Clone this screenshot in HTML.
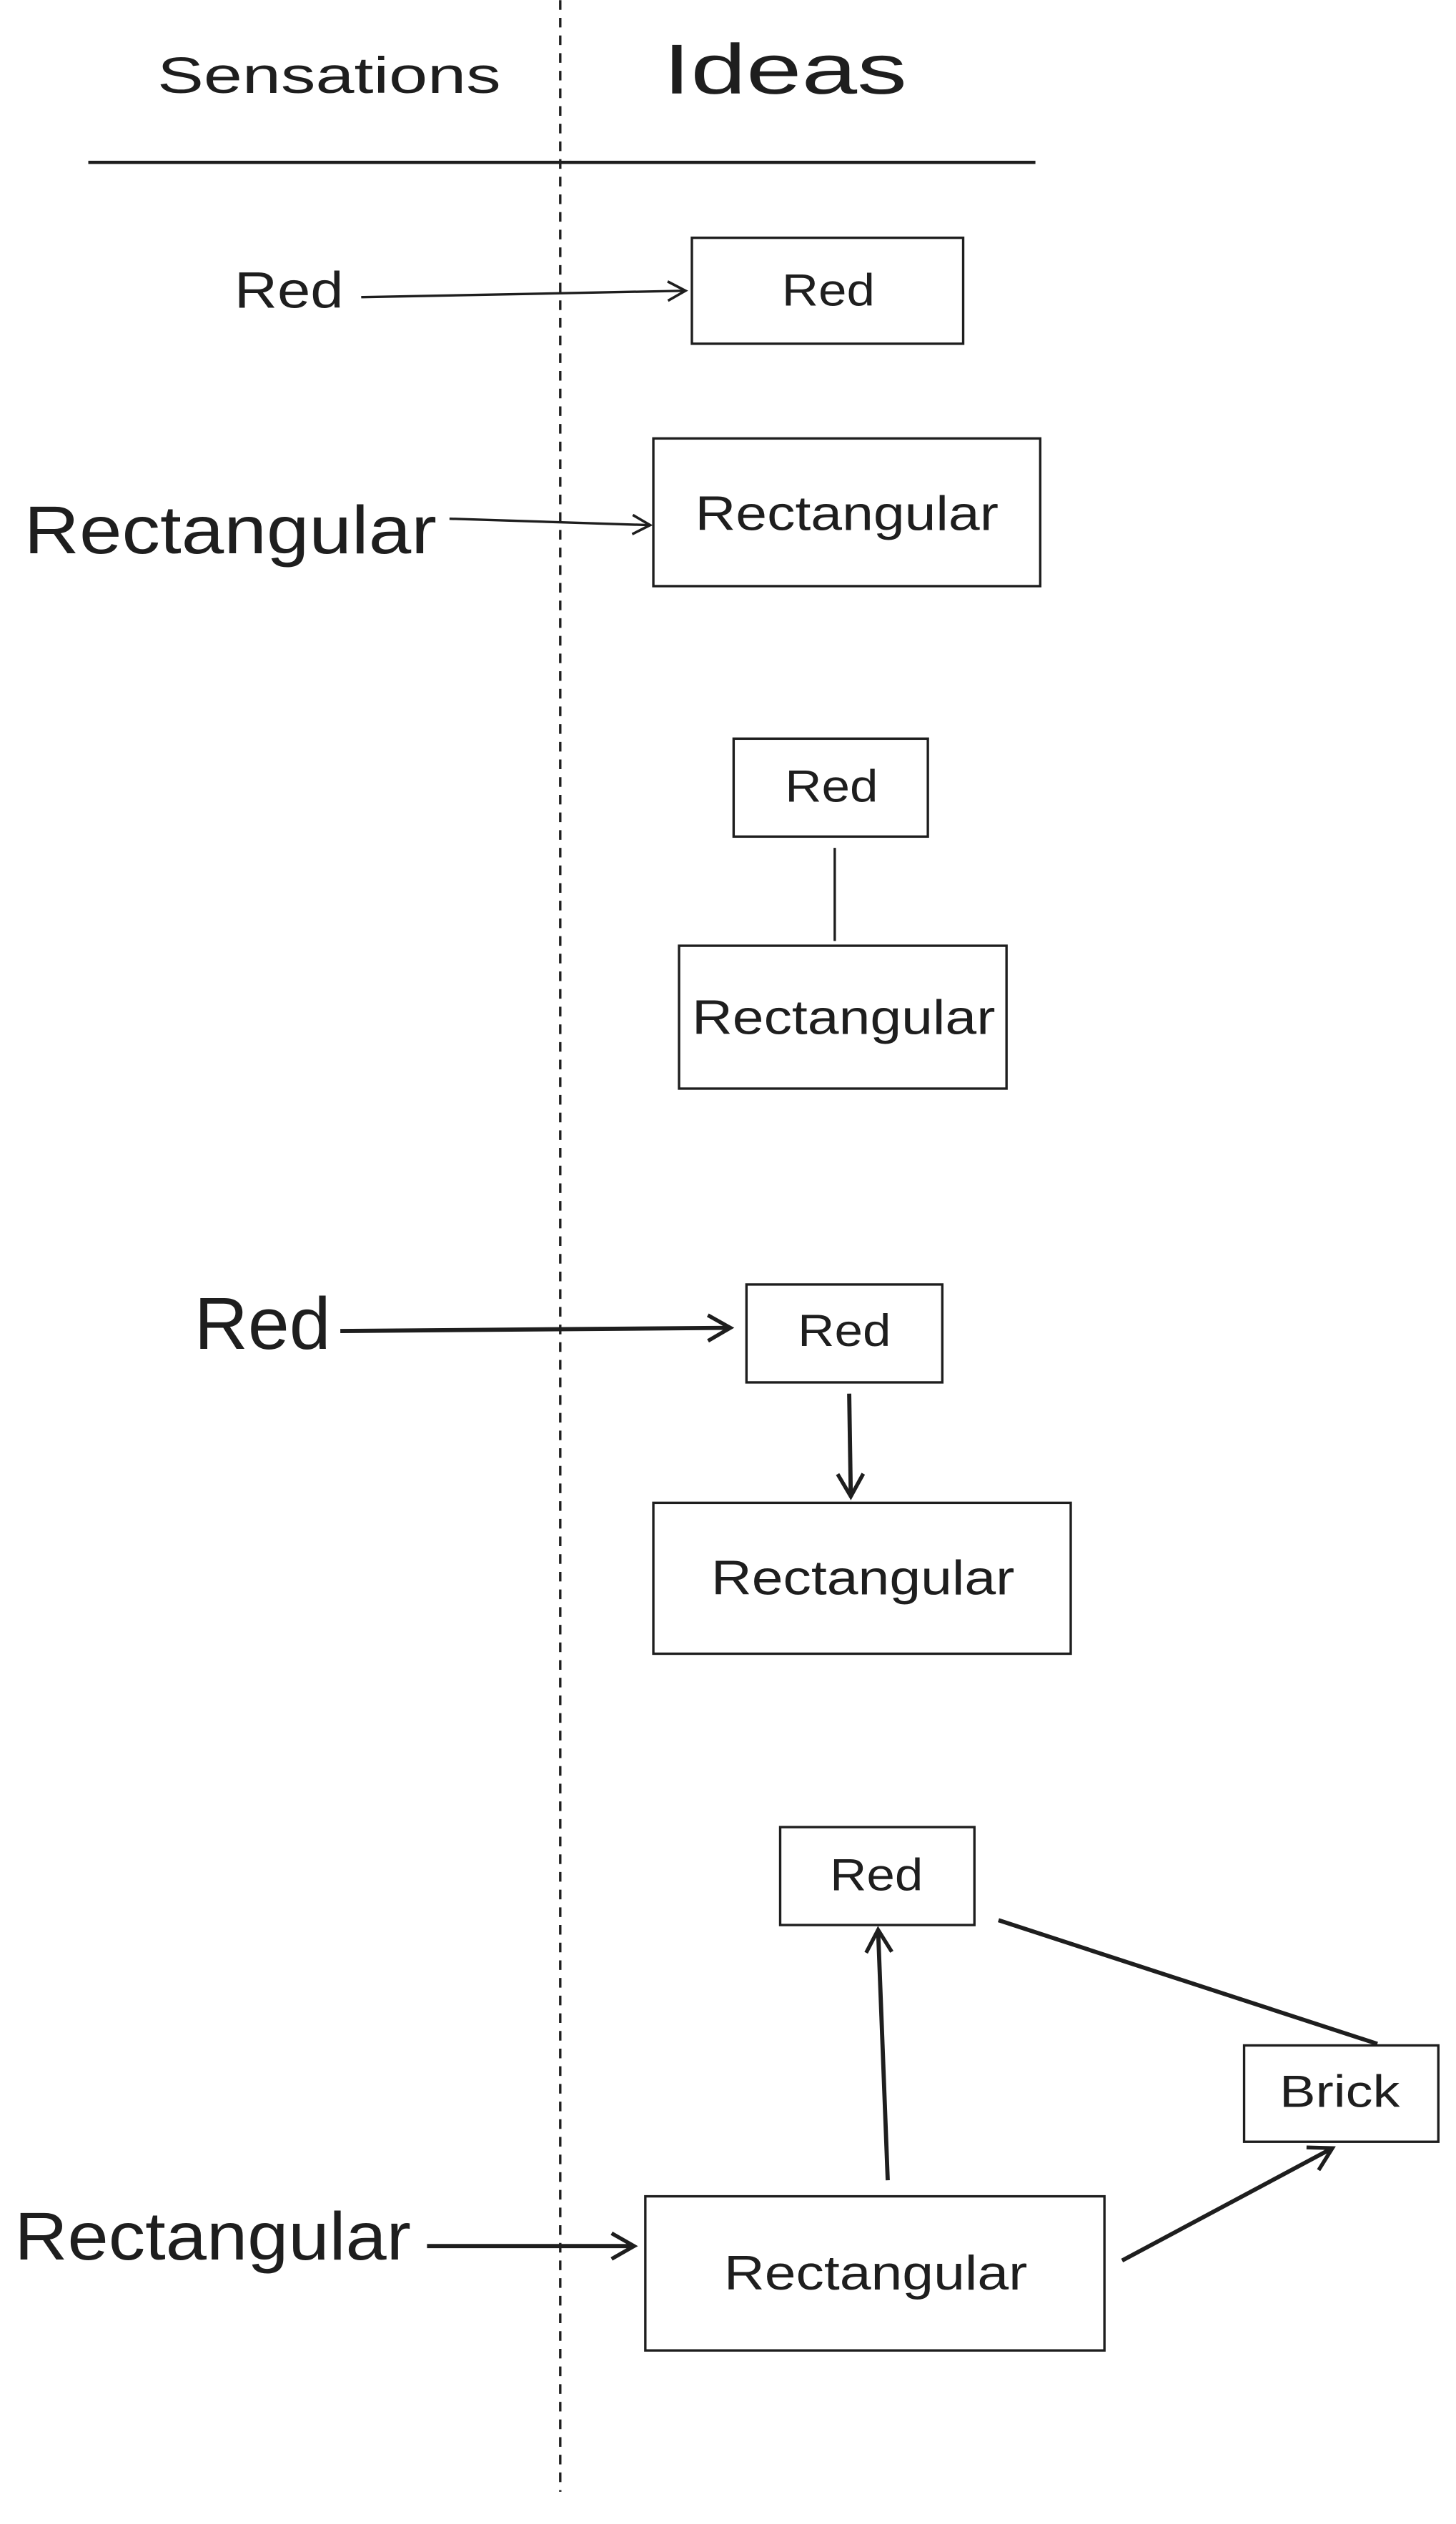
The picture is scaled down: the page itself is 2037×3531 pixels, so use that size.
<!DOCTYPE html>
<html><head><meta charset="utf-8"><style>html,body{margin:0;padding:0;background:#fff}svg{display:block}</style></head>
<body>
<svg width="2037" height="3531" viewBox="0 0 907 1572" xmlns="http://www.w3.org/2000/svg">
<defs>
<marker id="a" markerWidth="14" markerHeight="14" refX="12" refY="7" orient="auto" markerUnits="userSpaceOnUse">
<path d="M1,1 L12,7 L1,13" fill="none" stroke="#1e1e1e" stroke-width="1.6"/>
</marker>
<marker id="b" markerWidth="18" markerHeight="18" refX="15" refY="9" orient="auto" markerUnits="userSpaceOnUse">
<path d="M1,1 L15,9 L1,17" fill="none" stroke="#1e1e1e" stroke-width="2.4"/>
</marker>
</defs>
<g font-family="Liberation Sans, sans-serif" fill="#1e1e1e" dominant-baseline="central" lengthAdjust="spacingAndGlyphs">
<text x="98" y="47" font-size="32" textLength="214" lengthAdjust="spacingAndGlyphs">Sensations</text>
<text x="413" y="43" font-size="44" textLength="152" lengthAdjust="spacingAndGlyphs">Ideas</text>
<text x="146" y="181" font-size="32" textLength="68" lengthAdjust="spacingAndGlyphs">Red</text>
<text x="15" y="330" font-size="42" textLength="257" lengthAdjust="spacingAndGlyphs">Rectangular</text>
<text x="121" y="824" font-size="46" textLength="85" lengthAdjust="spacingAndGlyphs">Red</text>
<text x="9" y="1393" font-size="42" textLength="247" lengthAdjust="spacingAndGlyphs">Rectangular</text>
<text x="487" y="181" font-size="28" textLength="58" lengthAdjust="spacingAndGlyphs">Red</text>
<text x="433" y="320" font-size="30" textLength="189" lengthAdjust="spacingAndGlyphs">Rectangular</text>
<text x="489" y="490" font-size="28" textLength="58" lengthAdjust="spacingAndGlyphs">Red</text>
<text x="431" y="634" font-size="30" textLength="189" lengthAdjust="spacingAndGlyphs">Rectangular</text>
<text x="497" y="829" font-size="28" textLength="58" lengthAdjust="spacingAndGlyphs">Red</text>
<text x="443" y="983" font-size="30" textLength="189" lengthAdjust="spacingAndGlyphs">Rectangular</text>
<text x="517" y="1168" font-size="28" textLength="58" lengthAdjust="spacingAndGlyphs">Red</text>
<text x="797" y="1303" font-size="28" textLength="75" lengthAdjust="spacingAndGlyphs">Brick</text>
<text x="451" y="1416" font-size="30" textLength="189" lengthAdjust="spacingAndGlyphs">Rectangular</text>
</g>
<g fill="none" stroke="#1e1e1e">
<line x1="55" y1="101" x2="645" y2="101" stroke-width="2"/>
<line x1="349" y1="0" x2="349" y2="1552" stroke-width="1.5" stroke-dasharray="6,5"/>
<g stroke-width="1.5">
<rect x="431" y="148" width="169" height="66"/>
<rect x="407" y="273" width="241" height="92"/>
<rect x="457" y="460" width="121" height="61"/>
<rect x="423" y="589" width="204" height="89"/>
<rect x="465" y="800" width="122" height="61"/>
<rect x="407" y="936" width="260" height="94"/>
<rect x="486" y="1138" width="121" height="61"/>
<rect x="775" y="1274" width="121" height="60"/>
<rect x="402" y="1368" width="286" height="96"/>
<line x1="225" y1="185" x2="427" y2="181" marker-end="url(#a)"/>
<line x1="280" y1="323" x2="405" y2="327" marker-end="url(#a)"/>
<line x1="520" y1="528" x2="520" y2="586"/>
</g>
<g stroke-width="2.6">
<line x1="212" y1="829" x2="455" y2="827" marker-end="url(#b)"/>
<line x1="529" y1="868" x2="530" y2="932" marker-end="url(#b)"/>
<line x1="553" y1="1358" x2="547" y2="1202" marker-end="url(#b)"/>
<line x1="622" y1="1196" x2="858" y2="1273"/>
<line x1="266" y1="1399" x2="395" y2="1399" marker-end="url(#b)"/>
<line x1="699" y1="1408" x2="830" y2="1338" marker-end="url(#b)"/>
</g>
</g>
</svg>
</body></html>
